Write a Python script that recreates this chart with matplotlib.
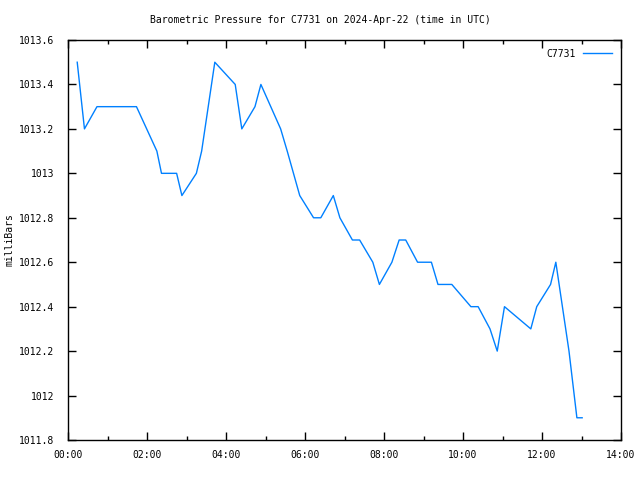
#!/usr/bin/env python3
"""
Barometric pressure for station C7731, gnuplot-style line chart.
"""

import matplotlib
matplotlib.use("Agg")
import matplotlib.pyplot as plt
from matplotlib.ticker import FuncFormatter, MultipleLocator

# observation times (UTC, HH:MM) and pressure readings (mb)
times = [
    "00:14", "00:25", "00:44", "01:44", "02:15", "02:22", "02:45", "02:53",
    "03:15", "03:23", "03:43", "04:14", "04:24", "04:44", "04:53", "05:23",
    "05:33", "05:52", "06:13", "06:24", "06:43", "06:53", "07:12", "07:23",
    "07:43", "07:53", "08:12", "08:23", "08:33", "08:51", "09:12", "09:22",
    "09:43", "10:12", "10:23", "10:41", "10:52", "11:03", "11:43", "11:52",
    "12:13", "12:21", "12:41", "12:53", "13:01",
]
pressure = [
    1013.5, 1013.2, 1013.3, 1013.3, 1013.1, 1013.0, 1013.0, 1012.9,
    1013.0, 1013.1, 1013.5, 1013.4, 1013.2, 1013.3, 1013.4, 1013.2,
    1013.1, 1012.9, 1012.8, 1012.8, 1012.9, 1012.8, 1012.7, 1012.7,
    1012.6, 1012.5, 1012.6, 1012.7, 1012.7, 1012.6, 1012.6, 1012.5,
    1012.5, 1012.4, 1012.4, 1012.3, 1012.2, 1012.4, 1012.3, 1012.4,
    1012.5, 1012.6, 1012.2, 1011.9, 1011.9,
]
station = "C7731"
date_str = "2024-Apr-22"


def to_hours(hhmm):
    h, m = hhmm.split(":")
    return int(h) + int(m) / 60.0


hours = [to_hours(t) for t in times]

plt.rcParams["font.family"] = ["DejaVu Sans Mono"]
plt.rcParams["font.size"] = 7

fig = plt.figure(figsize=(6.4, 4.8), dpi=100)
ax = fig.add_axes([68 / 640, 40 / 480, 553 / 640, 400 / 480])

ax.plot(hours, pressure, color="#0080ff", linewidth=1.0, label=station)

ax.set_xlim(0, 14)
ax.set_ylim(1011.8, 1013.6)
ax.xaxis.set_major_locator(MultipleLocator(2))
ax.xaxis.set_minor_locator(MultipleLocator(1))
ax.yaxis.set_major_locator(MultipleLocator(0.2))
ax.xaxis.set_major_formatter(FuncFormatter(lambda v, p: "%02d:00" % int(round(v))))
ax.yaxis.set_major_formatter(FuncFormatter(lambda v, p: "%g" % round(v, 1)))

ax.tick_params(which="both", direction="in", top=True, right=True, width=1.0)
ax.tick_params(which="major", length=6)
ax.tick_params(axis="y", which="major", pad=10)
ax.tick_params(axis="x", which="major", pad=7)
ax.tick_params(which="minor", length=3)
for s in ax.spines.values():
    s.set_linewidth(1.0)

fig.text(10 / 640, 1 - 240 / 480, "milliBars", rotation=90, ha="center", va="center")
fig.text(0.5, 1 - 20 / 480, f"Barometric Pressure for {station} on {date_str} (time in UTC)",
         ha="center", va="center")

ax.legend(loc="upper right", frameon=False, markerfirst=False, handlelength=3.0,
          handletextpad=0.8, borderaxespad=0.5)

fig.savefig("out.png", dpi=100)
